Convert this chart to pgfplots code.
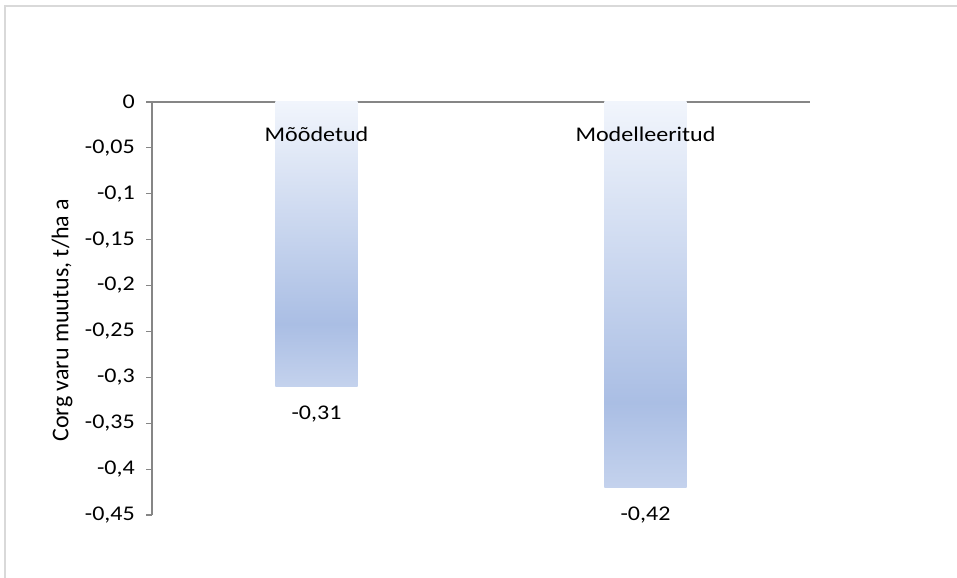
\documentclass[border=0pt]{standalone}
\usepackage{pgfplots}
\pgfplotsset{compat=1.18}
\usepackage{fontspec}
\setmainfont[FakeStretch=1.15]{Carlito}
\newfontfamily\labelfont{Carlito}

\definecolor{bartop}{RGB}{241,245,252}
\definecolor{bardark}{RGB}{170,190,228}
\definecolor{barbot}{RGB}{196,210,237}
\definecolor{axisgray}{RGB}{134,134,134}
\definecolor{framegray}{RGB}{217,217,217}

% vertical gradient of the bars: light at the zero line, darkest near the bar end
\pgfdeclareverticalshading{barshade}{100bp}{%
  color(0bp)=(barbot); color(25bp)=(barbot); color(36bp)=(bardark);
  color(75bp)=(bartop); color(100bp)=(bartop)}

\begin{document}
\fontsize{20.9bp}{24bp}\selectfont
\begin{tikzpicture}[x=1bp,y=1bp]
\useasboundingbox (0,0) rectangle (957,578);
\draw[framegray, line width=2bp] (5,-10) -- (5,572) -- (970,572);
\begin{axis}[
  at={(152bp,63bp)}, anchor=south west,
  width=658bp, height=413bp, scale only axis,
  xmin=-0.5, xmax=1.5, ymin=-0.45, ymax=0,
  axis x line*=top, axis y line*=left,
  axis line style={draw=axisgray, line width=1.4bp},
  xtick=\empty,
  ytick={-0.45,-0.4,-0.35,-0.3,-0.25,-0.2,-0.15,-0.1,-0.05,0},
  tick align=outside, major tick length=6bp,
  ytick style={draw=axisgray, line width=1.2bp},
  /pgf/number format/.cd, fixed, precision=2, use comma, assume math mode=true,
  /pgfplots/.cd,
  yticklabel style={text=black, xshift=-4bp},
  ylabel={Corg varu muutus, t/ha a},
  ylabel style={at={(axis description cs:-0.1368,0.472)}, anchor=center,
    font=\labelfont\fontsize{24bp}{28bp}\selectfont},
  ybar, bar width=0.25, bar shift=0pt,
  nodes near coords={\pgfmathprintnumber[fixed,precision=2,use comma,assume math mode=true]{\pgfplotspointmeta}},
  every node near coord/.append style={anchor=center, yshift=-28bp, text=black},
  clip=false,
]
\addplot[draw=none, shade, shading=barshade] coordinates {(0,-0.31)};
\addplot[draw=none, shade, shading=barshade] coordinates {(1,-0.42)};
\node[anchor=base, yshift=-40bp] at (axis cs:0,0) {Mõõdetud};
\node[anchor=base, yshift=-40bp] at (axis cs:1,0) {Modelleeritud};
\end{axis}
\end{tikzpicture}
\end{document}
